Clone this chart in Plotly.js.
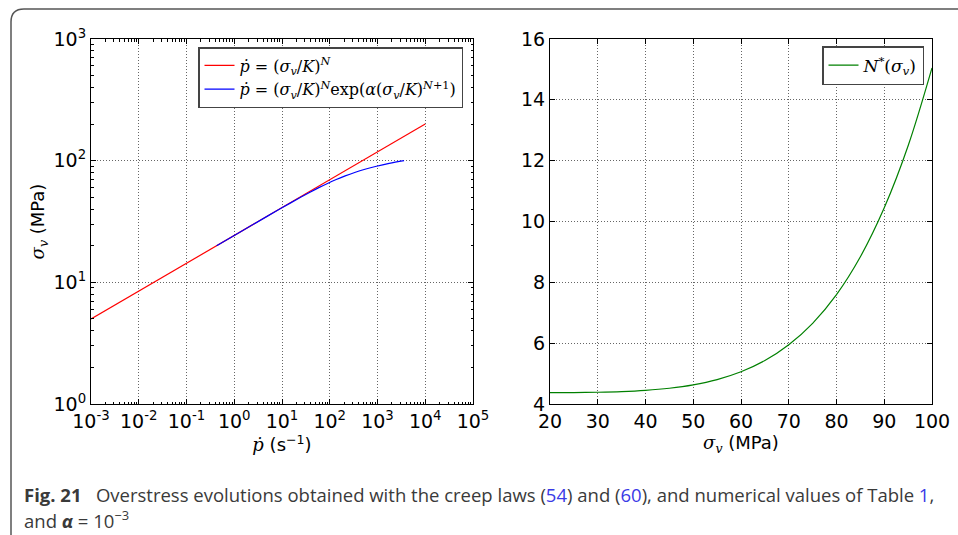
<!DOCTYPE html>
<html>
<head>
<meta charset="utf-8">
<script src="https://cdn.plot.ly/plotly-3.0.1.min.js"></script>
<style>
html,body{margin:0;padding:0;background:#fff;}
#chart{width:958px;height:535px;}
</style>
</head>
<body>
<div id="chart"></div>
<script>
// ---- data ----
// Left panel: red power law (straight line in log-log)
const redRate = [1e-3, 1e-2, 1e-1, 1, 10, 100, 1000, 1e4];
const redStress = [5.0, 8.47, 14.35, 24.3, 41.2, 69.7, 118.0, 200.0];
// Left panel: blue exponential law
const blueRate = [0.427, 1.133, 2.519, 4.959, 8.96, 15.18, 24.57, 38.5, 59.0, 89.8, 136.7, 210.7, 332.9, 547, 948, 1755, 3600];
const blueStress = [20, 25, 30, 35, 40, 45, 50, 55, 60, 65, 70, 75, 80, 85, 90, 95, 100];
// Right panel: N*(sigma_v)
const greenStress = [20, 25, 30, 35, 40, 45, 50, 55, 60, 65, 70, 75, 80, 85, 90, 95, 100];
const greenN = [4.372, 4.376, 4.387, 4.408, 4.448, 4.517, 4.629, 4.802, 5.059, 5.428, 5.947, 6.653, 7.597, 8.84, 10.45, 12.49, 15.05];

// tick labels
const leftXTickVals = [1e-3, 1e-2, 1e-1, 1, 10, 100, 1000, 1e4, 1e5];
const leftXTickText = ['10<sup>-3</sup>', '10<sup>-2</sup>', '10<sup>-1</sup>', '10<sup>0</sup>', '10<sup>1</sup>', '10<sup>2</sup>', '10<sup>3</sup>', '10<sup>4</sup>', '10<sup>5</sup>'];
const leftYTickVals = [1, 10, 100, 1000];
const leftYTickText = ['10<sup>0</sup>', '10<sup>1</sup>', '10<sup>2</sup>', '10<sup>3</sup>'];

const legendLabel1 = '<i>ṗ</i> = (<i>σ<sub>v</sub></i>/<i>K</i>)<sup><i>N</i></sup>';
const legendLabel2 = '<i>ṗ</i> = (<i>σ<sub>v</sub></i>/<i>K</i>)<sup><i>N</i></sup>exp(<i>α</i>(<i>σ<sub>v</sub></i>/<i>K</i>)<sup><i>N</i>+1</sup>)';
const legendLabel3 = '<i>N</i><sup>*</sup>(<i>σ<sub>v</sub></i>)';

const W = 958, H = 535;
const px = v => v / W;
const py = v => 1 - v / H;

const traces = [
  {x: redRate, y: redStress, type: 'scatter', mode: 'lines', name: legendLabel1,
   line: {color: '#ff0000', width: 1.2}, xaxis: 'x', yaxis: 'y', legend: 'legend'},
  {x: blueRate, y: blueStress, type: 'scatter', mode: 'lines', name: legendLabel2,
   line: {color: '#0000ff', width: 1.2, shape: 'spline'}, xaxis: 'x', yaxis: 'y', legend: 'legend'},
  {x: greenStress, y: greenN, type: 'scatter', mode: 'lines', name: legendLabel3,
   line: {color: '#008000', width: 1.2, shape: 'spline'}, xaxis: 'x2', yaxis: 'y2', legend: 'legend2'}
];

const tickFont = {family: 'DejaVu Sans, sans-serif', size: 19, color: '#000'};
const titleFont = {family: 'DejaVu Sans, sans-serif', size: 18, color: '#000'};
const common = {
  showline: true, linecolor: '#000', linewidth: 1, mirror: 'allticks',
  ticks: 'inside', ticklen: 5, tickcolor: '#000', tickwidth: 1,
  showgrid: true, gridcolor: '#666', griddash: '1px,2px', gridwidth: 1,
  zeroline: false, tickfont: tickFont, automargin: false
};

const serifSpan = s => '<span style="font-family:\'DejaVu Serif\',serif;font-style:italic">' + s + '</span>';

const layout = {
  width: W, height: H,
  margin: {l: 0, r: 0, t: 0, b: 0},
  paper_bgcolor: '#fff', plot_bgcolor: '#fff',
  showlegend: true,
  xaxis: Object.assign({}, common, {
    type: 'log', range: [-3, 5], domain: [px(91), px(473)], anchor: 'y',
    tickmode: 'array', tickvals: leftXTickVals, ticktext: leftXTickText,
    minor: {ticks: 'inside', ticklen: 2.5, tickcolor: '#000', dtick: 'D1', showgrid: false},
    title: {text: serifSpan('ṗ') + ' (s<sup>−1</sup>)', font: titleFont, standoff: 0}
  }),
  yaxis: Object.assign({}, common, {
    type: 'log', range: [0, 3], domain: [py(404), py(39)], anchor: 'x',
    tickmode: 'array', tickvals: leftYTickVals, ticktext: leftYTickText,
    minor: {ticks: 'inside', ticklen: 2.5, tickcolor: '#000', dtick: 'D1', showgrid: false},
    title: {text: serifSpan('σ<sub>v</sub>') + ' (MPa)', font: titleFont, standoff: 4}
  }),
  xaxis2: Object.assign({}, common, {
    range: [20, 100], domain: [px(550), px(932)], anchor: 'y2',
    tickmode: 'linear', tick0: 20, dtick: 10,
    title: {text: serifSpan('σ<sub>v</sub>') + ' (MPa)', font: titleFont, standoff: 0}
  }),
  yaxis2: Object.assign({}, common, {
    range: [4, 16], domain: [py(404), py(39)], anchor: 'x2',
    tickmode: 'linear', tick0: 4, dtick: 2
  }),
  legend: {
    x: px(463), xanchor: 'right', y: py(47), yanchor: 'top',
    bgcolor: '#fff', bordercolor: '#444', borderwidth: 1.5,
    font: {family: 'DejaVu Serif, serif', size: 16, color: '#000'},
    itemwidth: 30, tracegroupgap: 0
  },
  legend2: {
    x: px(924), xanchor: 'right', y: py(46), yanchor: 'top',
    bgcolor: '#fff', bordercolor: '#444', borderwidth: 1.5,
    font: {family: 'DejaVu Serif, serif', size: 17, color: '#000'},
    itemwidth: 30
  },
  shapes: [
    {type: 'path', xref: 'paper', yref: 'paper',
     path: 'M ' + px(11) + ',' + py(535) + ' L ' + px(11) + ',' + py(22) +
           ' Q ' + px(11) + ',' + py(9) + ' ' + px(24) + ',' + py(9) +
           ' L ' + px(958) + ',' + py(9),
     line: {color: '#555', width: 1.5}}
  ],
  annotations: [
    {xref: 'paper', yref: 'paper', x: px(22), y: py(494), xanchor: 'left', yanchor: 'middle',
     showarrow: false, align: 'left',
     font: {family: 'Open Sans, sans-serif', size: 18.5, color: '#3a3a3a'},
     text: '<b>Fig. 21</b>\u00a0\u00a0\u00a0Overstress evolutions obtained with the creep laws (<span style="color:#3a3ae6">54</span>) and (<span style="color:#3a3ae6">60</span>), and numerical values of Table <span style="color:#3a3ae6">1</span>,'},
    {xref: 'paper', yref: 'paper', x: px(22), y: py(519), xanchor: 'left', yanchor: 'middle',
     showarrow: false, align: 'left',
     font: {family: 'Open Sans, sans-serif', size: 18.5, color: '#3a3a3a'},
     text: 'and <b><i>α</i></b> = 10<sup>−3</sup>'}
  ]
};

Plotly.newPlot('chart', traces, layout, {displayModeBar: false, staticPlot: true});
</script>
</body>
</html>
